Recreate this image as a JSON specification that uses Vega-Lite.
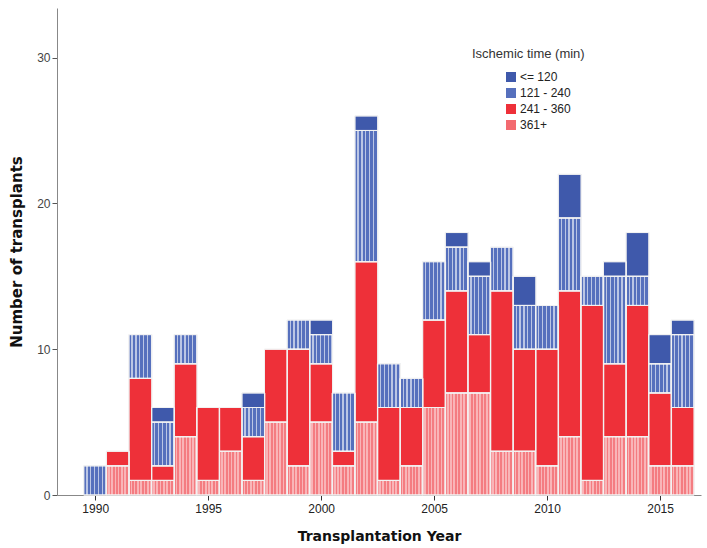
{
  "$schema": "https://vega.github.io/schema/vega-lite/v6.json",
  "width": 644,
  "height": 487,
  "autosize": {"type": "none"},
  "padding": {"left": 57, "top": 8, "right": 6, "bottom": 53},
  "background": "white",
  "config": {"view": {"stroke": null}},
  "data": {"values": [
    {"year": 1990, "cat": "121 - 240", "n": 2},
    {"year": 1991, "cat": "361+", "n": 2}, {"year": 1991, "cat": "241 - 360", "n": 1},
    {"year": 1992, "cat": "361+", "n": 1}, {"year": 1992, "cat": "241 - 360", "n": 7}, {"year": 1992, "cat": "121 - 240", "n": 3},
    {"year": 1993, "cat": "361+", "n": 1}, {"year": 1993, "cat": "241 - 360", "n": 1}, {"year": 1993, "cat": "121 - 240", "n": 3}, {"year": 1993, "cat": "<= 120", "n": 1},
    {"year": 1994, "cat": "361+", "n": 4}, {"year": 1994, "cat": "241 - 360", "n": 5}, {"year": 1994, "cat": "121 - 240", "n": 2},
    {"year": 1995, "cat": "361+", "n": 1}, {"year": 1995, "cat": "241 - 360", "n": 5},
    {"year": 1996, "cat": "361+", "n": 3}, {"year": 1996, "cat": "241 - 360", "n": 3},
    {"year": 1997, "cat": "361+", "n": 1}, {"year": 1997, "cat": "241 - 360", "n": 3}, {"year": 1997, "cat": "121 - 240", "n": 2}, {"year": 1997, "cat": "<= 120", "n": 1},
    {"year": 1998, "cat": "361+", "n": 5}, {"year": 1998, "cat": "241 - 360", "n": 5},
    {"year": 1999, "cat": "361+", "n": 2}, {"year": 1999, "cat": "241 - 360", "n": 8}, {"year": 1999, "cat": "121 - 240", "n": 2},
    {"year": 2000, "cat": "361+", "n": 5}, {"year": 2000, "cat": "241 - 360", "n": 4}, {"year": 2000, "cat": "121 - 240", "n": 2}, {"year": 2000, "cat": "<= 120", "n": 1},
    {"year": 2001, "cat": "361+", "n": 2}, {"year": 2001, "cat": "241 - 360", "n": 1}, {"year": 2001, "cat": "121 - 240", "n": 4},
    {"year": 2002, "cat": "361+", "n": 5}, {"year": 2002, "cat": "241 - 360", "n": 11}, {"year": 2002, "cat": "121 - 240", "n": 9}, {"year": 2002, "cat": "<= 120", "n": 1},
    {"year": 2003, "cat": "361+", "n": 1}, {"year": 2003, "cat": "241 - 360", "n": 5}, {"year": 2003, "cat": "121 - 240", "n": 3},
    {"year": 2004, "cat": "361+", "n": 2}, {"year": 2004, "cat": "241 - 360", "n": 4}, {"year": 2004, "cat": "121 - 240", "n": 2},
    {"year": 2005, "cat": "361+", "n": 6}, {"year": 2005, "cat": "241 - 360", "n": 6}, {"year": 2005, "cat": "121 - 240", "n": 4},
    {"year": 2006, "cat": "361+", "n": 7}, {"year": 2006, "cat": "241 - 360", "n": 7}, {"year": 2006, "cat": "121 - 240", "n": 3}, {"year": 2006, "cat": "<= 120", "n": 1},
    {"year": 2007, "cat": "361+", "n": 7}, {"year": 2007, "cat": "241 - 360", "n": 4}, {"year": 2007, "cat": "121 - 240", "n": 4}, {"year": 2007, "cat": "<= 120", "n": 1},
    {"year": 2008, "cat": "361+", "n": 3}, {"year": 2008, "cat": "241 - 360", "n": 11}, {"year": 2008, "cat": "121 - 240", "n": 3},
    {"year": 2009, "cat": "361+", "n": 3}, {"year": 2009, "cat": "241 - 360", "n": 7}, {"year": 2009, "cat": "121 - 240", "n": 3}, {"year": 2009, "cat": "<= 120", "n": 2},
    {"year": 2010, "cat": "361+", "n": 2}, {"year": 2010, "cat": "241 - 360", "n": 8}, {"year": 2010, "cat": "121 - 240", "n": 3},
    {"year": 2011, "cat": "361+", "n": 4}, {"year": 2011, "cat": "241 - 360", "n": 10}, {"year": 2011, "cat": "121 - 240", "n": 5}, {"year": 2011, "cat": "<= 120", "n": 3},
    {"year": 2012, "cat": "361+", "n": 1}, {"year": 2012, "cat": "241 - 360", "n": 12}, {"year": 2012, "cat": "121 - 240", "n": 2},
    {"year": 2013, "cat": "361+", "n": 4}, {"year": 2013, "cat": "241 - 360", "n": 5}, {"year": 2013, "cat": "121 - 240", "n": 6}, {"year": 2013, "cat": "<= 120", "n": 1},
    {"year": 2014, "cat": "361+", "n": 4}, {"year": 2014, "cat": "241 - 360", "n": 9}, {"year": 2014, "cat": "121 - 240", "n": 2}, {"year": 2014, "cat": "<= 120", "n": 3},
    {"year": 2015, "cat": "361+", "n": 2}, {"year": 2015, "cat": "241 - 360", "n": 5}, {"year": 2015, "cat": "121 - 240", "n": 2}, {"year": 2015, "cat": "<= 120", "n": 2},
    {"year": 2016, "cat": "361+", "n": 2}, {"year": 2016, "cat": "241 - 360", "n": 4}, {"year": 2016, "cat": "121 - 240", "n": 5}, {"year": 2016, "cat": "<= 120", "n": 1}
  ]},
  "transform": [
    {"calculate": "indexof(['361+','241 - 360','121 - 240','<= 120'], datum.cat)", "as": "ord"}
  ],
  "encoding": {
    "x": {
      "field": "year", "type": "quantitative",
      "scale": {"domain": [1988.53, 2016.59], "nice": false, "zero": false},
      "axis": {
        "title": "Transplantation Year",
        "values": [1990, 1995, 2000, 2005, 2010, 2015],
        "format": "d", "grid": false,
        "domainColor": "#888888", "tickColor": "#333333", "tickSize": 5,
        "labelFont": "Liberation Sans", "labelFontSize": 12, "labelColor": "#222222", "labelPadding": 3,
        "titleFont": "DejaVu Sans", "titleFontSize": 14, "titleFontWeight": "bold", "titleColor": "#111111", "titlePadding": 15
      }
    },
    "y": {
      "field": "n", "type": "quantitative", "stack": "zero",
      "scale": {"domain": [0, 33.4], "nice": false},
      "axis": {
        "title": "Number of transplants",
        "values": [0, 10, 20, 30], "grid": false,
        "domainColor": "#888888", "tickColor": "#555555", "tickSize": 5,
        "labelFont": "Liberation Sans", "labelFontSize": 12, "labelColor": "#444444", "labelPadding": 2,
        "titleFont": "DejaVu Sans", "titleFontSize": 15, "titleFontWeight": "bold", "titleColor": "#111111", "titlePadding": 12
      }
    },
    "order": {"field": "ord", "type": "quantitative"},
    "detail": {"field": "cat"}
  },
  "layer": [
    {
      "mark": {"type": "bar", "width": 22.95, "stroke": "#f2f2f2", "strokeWidth": 1},
      "encoding": {
        "color": {
          "field": "cat", "type": "nominal",
          "scale": {"domain": ["<= 120", "121 - 240", "241 - 360", "361+"], "range": ["#3f59ab", "#5670bd", "#ee3039", "#f36a70"]},
          "legend": {
            "orient": "none", "legendX": 415, "legendY": 40,
            "title": "Ischemic time (min)",
            "titleFont": "Liberation Sans", "titleFontSize": 13, "titleFontWeight": "normal", "titleColor": "#333333", "titlePadding": 10,
            "labelFont": "Liberation Sans", "labelFontSize": 12, "labelColor": "#222222", "labelOffset": 3,
            "symbolType": "square", "symbolSize": 100, "symbolStrokeWidth": 0, "symbolOffset": 33, "rowPadding": 4
          }
        }
      }
    },
    {
      "mark": {"type": "bar", "width": 22.95, "stroke": "#f2f2f2", "strokeWidth": 1},
      "encoding": {
        "fill": {
          "condition": [
            {"test": "datum.cat === '361+'", "value": {"gradient": "linear", "x1": 0, "x2": 1, "y1": 0, "y2": 0, "stops": [
              {"offset": 0, "color": "rgba(255,255,255,0.12)"}, {"offset": 0.0714, "color": "rgba(255,255,255,0.12)"}, {"offset": 0.0714, "color": "rgba(255,255,255,0.5)"}, {"offset": 0.1429, "color": "rgba(255,255,255,0.5)"},
              {"offset": 0.1429, "color": "rgba(255,255,255,0.12)"}, {"offset": 0.2143, "color": "rgba(255,255,255,0.12)"}, {"offset": 0.2143, "color": "rgba(255,255,255,0.5)"}, {"offset": 0.2857, "color": "rgba(255,255,255,0.5)"},
              {"offset": 0.2857, "color": "rgba(255,255,255,0.12)"}, {"offset": 0.3571, "color": "rgba(255,255,255,0.12)"}, {"offset": 0.3571, "color": "rgba(255,255,255,0.5)"}, {"offset": 0.4286, "color": "rgba(255,255,255,0.5)"},
              {"offset": 0.4286, "color": "rgba(255,255,255,0.12)"}, {"offset": 0.5, "color": "rgba(255,255,255,0.12)"}, {"offset": 0.5, "color": "rgba(255,255,255,0.5)"}, {"offset": 0.5714, "color": "rgba(255,255,255,0.5)"},
              {"offset": 0.5714, "color": "rgba(255,255,255,0.12)"}, {"offset": 0.6429, "color": "rgba(255,255,255,0.12)"}, {"offset": 0.6429, "color": "rgba(255,255,255,0.5)"}, {"offset": 0.7143, "color": "rgba(255,255,255,0.5)"},
              {"offset": 0.7143, "color": "rgba(255,255,255,0.12)"}, {"offset": 0.7857, "color": "rgba(255,255,255,0.12)"}, {"offset": 0.7857, "color": "rgba(255,255,255,0.5)"}, {"offset": 0.8571, "color": "rgba(255,255,255,0.5)"},
              {"offset": 0.8571, "color": "rgba(255,255,255,0.12)"}, {"offset": 0.9286, "color": "rgba(255,255,255,0.12)"}, {"offset": 0.9286, "color": "rgba(255,255,255,0.5)"}, {"offset": 1, "color": "rgba(255,255,255,0.5)"}
            ]}},
            {"test": "datum.cat === '121 - 240'", "value": {"gradient": "linear", "x1": 0, "x2": 1, "y1": 0, "y2": 0, "stops": [
              {"offset": 0, "color": "rgba(255,255,255,0)"}, {"offset": 0.11, "color": "rgba(255,255,255,0)"}, {"offset": 0.11, "color": "rgba(255,255,255,0.6)"}, {"offset": 0.1667, "color": "rgba(255,255,255,0.6)"},
              {"offset": 0.1667, "color": "rgba(255,255,255,0)"}, {"offset": 0.2767, "color": "rgba(255,255,255,0)"}, {"offset": 0.2767, "color": "rgba(255,255,255,0.6)"}, {"offset": 0.3333, "color": "rgba(255,255,255,0.6)"},
              {"offset": 0.3333, "color": "rgba(255,255,255,0)"}, {"offset": 0.4433, "color": "rgba(255,255,255,0)"}, {"offset": 0.4433, "color": "rgba(255,255,255,0.6)"}, {"offset": 0.5, "color": "rgba(255,255,255,0.6)"},
              {"offset": 0.5, "color": "rgba(255,255,255,0)"}, {"offset": 0.61, "color": "rgba(255,255,255,0)"}, {"offset": 0.61, "color": "rgba(255,255,255,0.6)"}, {"offset": 0.6667, "color": "rgba(255,255,255,0.6)"},
              {"offset": 0.6667, "color": "rgba(255,255,255,0)"}, {"offset": 0.7767, "color": "rgba(255,255,255,0)"}, {"offset": 0.7767, "color": "rgba(255,255,255,0.6)"}, {"offset": 0.8333, "color": "rgba(255,255,255,0.6)"},
              {"offset": 0.8333, "color": "rgba(255,255,255,0)"}, {"offset": 0.9433, "color": "rgba(255,255,255,0)"}, {"offset": 0.9433, "color": "rgba(255,255,255,0.6)"}, {"offset": 1, "color": "rgba(255,255,255,0.6)"}
            ]}}
          ],
          "value": "rgba(0,0,0,0)"
        }
      }
    }
  ]
}
